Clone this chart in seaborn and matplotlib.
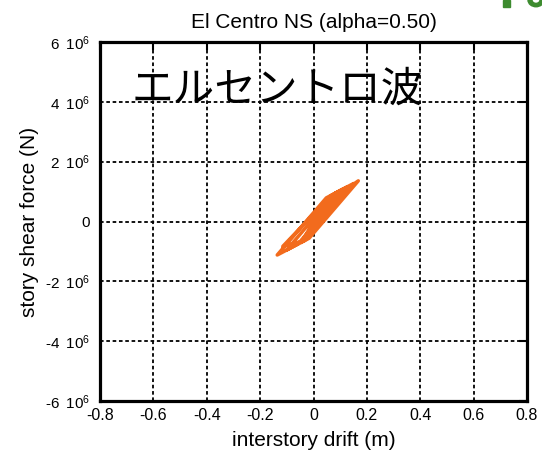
import matplotlib
matplotlib.use("Agg")
import matplotlib.pyplot as plt
from matplotlib.patches import Rectangle, Wedge
import seaborn as sns

# ---- data ----
drift = [0.000, 0.075, 0.168, -0.0165, -0.136, 0.048, 0.150, -0.0335, -0.115,
         0.068, 0.125, -0.058, -0.100, 0.080, 0.110, -0.045, 0.000]
force = [0.00, 0.78, 1.36, -0.56, -1.12, 0.79, 1.27, -0.64, -0.83,
         0.88, 1.15, -0.75, -0.95, 0.94, 1.08, -0.70, 0.00]
force = [f * 1e6 for f in force]

x_ticks = [-0.8, -0.6, -0.4, -0.2, 0.0, 0.2, 0.4, 0.6, 0.8]
x_tick_labels = ["-0.8", "-0.6", "-0.4", "-0.2", "0", "0.2", "0.4", "0.6", "0.8"]
y_ticks = [-6e6, -4e6, -2e6, 0, 2e6, 4e6, 6e6]
y_tick_labels = ["-6 10$^6$", "-4 10$^6$", "-2 10$^6$", "0",
                 "2 10$^6$", "4 10$^6$", "6 10$^6$"]

title = "El Centro NS (alpha=0.50)"
xlabel = "interstory drift (m)"
ylabel = "story shear force (N)"
jp_label = "エルセントロ波"

# ---- style ----
sns.set_theme(style="white")
plt.rcParams["font.family"] = ["Liberation Sans", "DejaVu Sans"]
plt.rcParams["mathtext.fontset"] = "custom"
plt.rcParams["mathtext.rm"] = "Liberation Sans"
plt.rcParams["mathtext.it"] = "Liberation Sans"
plt.rcParams["text.color"] = "black"
plt.rcParams["axes.labelcolor"] = "black"

fig = plt.figure(figsize=(5.42, 4.57), dpi=100)
ax = fig.add_axes([100 / 542, 1 - 401 / 457, 427 / 542, 359 / 457])

sns.lineplot(x=drift, y=force, sort=False, estimator=None, ax=ax,
             color="#f26b1d", linewidth=2.5, zorder=3)

ax.set_xlim(-0.8, 0.8)
ax.set_ylim(-6e6, 6e6)
ax.set_xticks(x_ticks)
ax.set_xticklabels(x_tick_labels, fontsize=11.5)
ax.set_yticks(y_ticks)
ax.set_yticklabels([l.replace(" ", "\u2009 ") for l in y_tick_labels], fontsize=11)

ax.grid(True, color="black", linestyle=(0, (2, 1.5)), linewidth=1.3)
ax.set_axisbelow(True)
for s in ax.spines.values():
    s.set_visible(True)
    s.set_color("black")
    s.set_linewidth(2.3)
ax.tick_params(direction="in", length=6, width=1.5, top=True, right=True,
               colors="black", labelcolor="black")
ax.tick_params(axis="x", pad=5)
ax.tick_params(axis="y", pad=7)

ax.set_title(title, fontsize=15, pad=10, color="black")
ax.set_xlabel(xlabel, fontsize=15, labelpad=6, color="black")
ax.set_ylabel(ylabel, fontsize=15, labelpad=4, color="black")

ax.text(-0.137, 4.4e6, jp_label, ha="center", va="center", fontsize=30,
        family=["Noto Sans CJK JP", "DejaVu Sans"], color="black", zorder=2)

# cropped green fragment at the top-right corner of the picture
green = "#3d8b2f"
fig.patches.append(Rectangle((503 / 542, 1 - 7 / 457), 7 / 542, 7 / 457,
                             transform=fig.transFigure, color=green))
fig.patches.append(Wedge((536 / 542, 1.0), 8 / 542, 180, 360, width=4 / 542,
                         transform=fig.transFigure, color=green))

fig.savefig("out.png", dpi=100)
